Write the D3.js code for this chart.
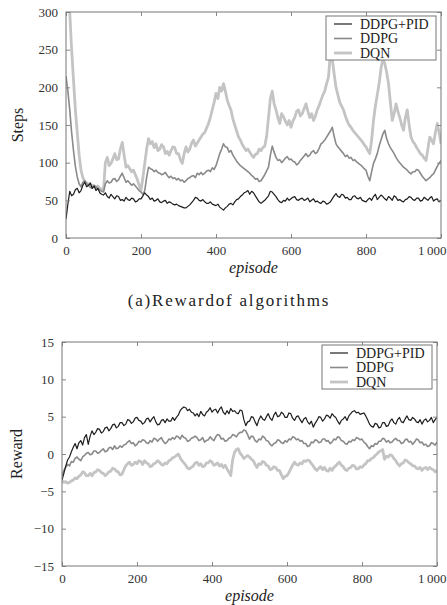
<!doctype html>
<html>
  <head>
    <meta charset="utf-8">
    <script src="https://d3js.org/d3.v7.min.js"></script>
    <style>
      body { margin: 0; background: #fff; }
    </style>
  </head>
  <body>
    <script>
    // episodes, one sample every 5 episodes
    var episodes = d3.range(0, 1001, 5);
    var seriesNames = ["DDPG+PID", "DDPG", "DQN"];
    var xTicks = [0, 200, 400, 600, 800, 1000];

    // (a) steps per episode
    var stepsPid = [25, 45, 62, 56, 58, 64, 66, 60, 63, 70, 74, 68, 70, 73, 66, 69, 63, 66, 60, 58,
      57, 60, 55, 53, 58, 55, 52, 56, 55, 50, 51, 49, 54, 51, 50, 53, 52, 48, 49, 52,
      52, 56, 60, 57, 55, 51, 53, 49, 50, 52, 48, 47, 49, 50, 46, 48, 47, 45, 44, 45,
      43, 42, 41, 40, 40, 42, 44, 47, 50, 54, 53, 50, 49, 51, 48, 46, 46, 48, 45, 44,
      43, 45, 41, 39, 37, 40, 42, 45, 46, 44, 48, 51, 52, 55, 57, 60, 61, 63, 58, 62,
      60, 56, 52, 48, 46, 48, 50, 53, 56, 62, 61, 58, 55, 51, 48, 47, 50, 49, 53, 50,
      52, 54, 55, 51, 50, 52, 53, 50, 51, 53, 48, 50, 52, 48, 49, 47, 46, 49, 48, 45,
      46, 48, 52, 56, 59, 55, 54, 58, 57, 53, 54, 51, 51, 55, 56, 53, 52, 54, 50, 49,
      48, 51, 53, 50, 55, 58, 51, 54, 57, 55, 52, 50, 55, 53, 50, 56, 54, 50, 51, 49,
      48, 51, 52, 55, 54, 51, 50, 53, 53, 49, 50, 54, 52, 50, 53, 55, 49, 51, 52, 48,
      50];
    var stepsDdpg = [215, 195, 170, 140, 116, 95, 81, 72, 68, 74, 76, 72, 70, 67, 66, 70, 68, 65, 64, 62,
      61, 72, 76, 73, 74, 78, 79, 75, 77, 82, 86, 80, 74, 76, 73, 70, 72, 69, 66, 63,
      61, 58, 63, 80, 94, 92, 91, 88, 90, 87, 86, 84, 85, 87, 83, 80, 82, 79, 80, 77,
      79, 76, 77, 74, 76, 79, 80, 82, 83, 80, 86, 84, 87, 84, 86, 89, 90, 88, 93, 91,
      96, 104, 112, 118, 125, 121, 120, 114, 116, 110, 106, 102, 99, 96, 94, 92, 90, 88, 86, 83,
      81, 78, 79, 75, 76, 80, 84, 89, 94, 110, 122, 114, 107, 103, 104, 100, 103, 106, 108, 104,
      105, 102, 101, 97, 99, 103, 106, 109, 112, 108, 110, 114, 116, 112, 114, 119, 125, 127, 130, 134,
      138, 142, 147, 135, 125, 121, 118, 115, 112, 108, 110, 106, 107, 103, 104, 101, 99, 97, 95, 92,
      90, 82, 76, 88, 99, 105, 112, 122, 130, 138, 143, 132, 125, 120, 116, 112, 107, 103, 100, 97,
      94, 92, 90, 87, 85, 88, 88, 91, 90, 86, 82, 79, 76, 78, 80, 83, 85, 90, 95, 99,
      103];
    var stepsDqn = [340, 320, 300, 250, 210, 170, 140, 110, 90, 80, 75, 73, 72, 70, 70, 68, 67, 69, 66, 65,
      64, 100, 107, 96, 99, 105, 112, 104, 105, 118, 127, 110, 94, 96, 92, 88, 90, 84, 78, 70,
      63, 80, 99, 118, 132, 125, 128, 120, 125, 116, 118, 124, 121, 112, 115, 110, 116, 121, 120, 112,
      112, 104, 99, 112, 121, 114, 118, 126, 130, 122, 126, 130, 134, 138, 140, 146, 152, 160, 170, 180,
      192, 185, 200, 195, 205, 195, 183, 176, 170, 158, 150, 142, 134, 130, 124, 120, 116, 118, 114, 110,
      107, 111, 112, 118, 116, 120, 122, 135, 160, 185, 195, 178, 170, 160, 152, 165, 161, 155, 150, 156,
      147, 155, 160, 168, 170, 162, 165, 172, 178, 168, 160, 165, 156, 162, 170, 176, 183, 190, 195, 205,
      214, 245, 238, 218, 200, 190, 180, 175, 170, 162, 155, 150, 147, 143, 140, 137, 134, 131, 128, 124,
      121, 116, 112, 130, 156, 175, 190, 205, 225, 238, 232, 220, 205, 180, 156, 165, 178, 168, 160, 150,
      143, 160, 170, 150, 134, 128, 125, 120, 116, 112, 110, 106, 103, 118, 134, 130, 125, 140, 152, 140,
      125];

    // (b) reward per episode
    var rewardPid = [-3.5, -2.6, -1.6, -0.8, -0.4, 0.3, 0.9, 1.4, 0.7, 1.5, 1.8, 1.2, 2.2, 2.6, 1.3, 2.4, 3.1, 2.6, 2.9, 3.4,
      3.3, 2.8, 3.0, 3.5, 3.6, 3.1, 3.4, 3.9, 4.0, 3.5, 3.7, 4.2, 4.2, 3.8, 4.0, 4.6, 4.5, 4.1, 4.3, 4.8,
      4.9, 4.5, 4.4, 4.0, 4.2, 4.7, 4.8, 4.3, 4.7, 5.0, 4.3, 3.9, 4.0, 4.5, 4.6, 4.2, 4.7, 4.4, 4.4, 4.9,
      4.5, 4.9, 5.2, 5.8, 6.1, 6.3, 6.2, 5.8, 6.0, 5.6, 5.5, 5.1, 5.4, 5.0, 5.7, 5.3, 5.1, 5.6, 5.8, 6.2,
      5.6, 5.9, 6.0, 5.5, 6.0, 6.3, 5.6, 5.3, 5.8, 5.4, 6.1, 5.7, 5.8, 5.5, 5.4, 5.9, 5.8, 4.6, 3.8, 4.3,
      4.4, 5.0, 4.9, 4.3, 3.8, 4.6, 5.1, 4.7, 4.5, 5.0, 5.4, 4.8, 4.5, 5.2, 5.6, 5.0, 5.1, 5.6, 5.4, 4.9,
      4.9, 5.5, 5.4, 4.8, 4.5, 5.0, 5.1, 4.6, 4.2, 4.7, 4.9, 4.3, 4.0, 4.4, 3.6, 4.1, 4.5, 5.0, 4.9, 4.4,
      4.7, 5.2, 5.1, 4.8, 5.4, 5.1, 4.9, 4.4, 4.0, 4.5, 4.7, 5.0, 4.5, 5.1, 5.4, 5.7, 5.8, 5.5, 5.6, 5.3,
      5.4, 5.5, 5.1, 4.6, 4.0, 3.7, 3.6, 4.1, 4.0, 3.5, 3.6, 4.2, 4.2, 3.7, 3.8, 4.4, 4.7, 4.2, 4.0, 4.6,
      4.9, 4.3, 4.2, 4.7, 5.1, 4.6, 4.5, 4.9, 4.7, 4.3, 4.2, 4.6, 4.0, 4.5, 4.7, 4.3, 4.5, 4.9, 4.2, 4.6,
      4.9];
    var rewardDdpg = [-2.9, -2.2, -1.8, -1.4, -1.6, -1.0, -1.1, -0.6, -0.4, -0.7, -0.9, -0.4, -0.2, 0.1, 0.2, -0.1, 0.0, 0.4, 0.4, 0.1,
      0.2, 0.5, 0.7, 0.3, 0.4, 0.8, 0.9, 0.6, 1.1, 0.7, 0.8, 1.1, 0.9, 1.2, 1.3, 1.6, 1.8, 1.4, 1.5, 1.1,
      1.3, 1.7, 1.6, 1.9, 1.8, 1.5, 1.4, 1.8, 1.6, 2.1, 2.0, 1.7, 2.0, 2.2, 1.7, 1.4, 1.6, 2.0, 1.9, 2.2,
      2.0, 2.4, 2.3, 2.0, 2.5, 2.2, 2.1, 1.7, 1.8, 2.1, 2.2, 2.4, 2.2, 1.8, 1.9, 2.2, 1.6, 1.8, 1.9, 2.3,
      2.0, 1.8, 2.3, 2.6, 2.5, 2.0, 2.1, 1.7, 1.8, 2.1, 2.2, 2.6, 2.5, 2.3, 2.7, 2.9, 2.9, 3.2, 3.1, 2.6,
      2.0, 2.4, 2.3, 1.8, 1.6, 2.0, 1.9, 2.4, 2.2, 1.8, 1.7, 1.3, 1.1, 1.4, 1.5, 1.9, 1.8, 1.5, 1.4, 1.8,
      1.6, 2.0, 1.9, 2.3, 2.2, 1.9, 2.0, 1.7, 1.8, 1.4, 1.4, 1.0, 1.1, 1.6, 1.5, 1.9, 1.8, 1.5, 1.6, 2.0,
      2.0, 1.7, 1.8, 1.4, 1.6, 2.0, 1.9, 2.3, 2.2, 1.8, 1.7, 1.4, 1.3, 1.7, 1.6, 1.9, 1.8, 2.2, 2.1, 1.9,
      2.0, 1.6, 1.4, 1.0, 0.7, 1.1, 1.0, 1.4, 1.3, 1.7, 1.7, 2.1, 2.0, 1.6, 1.8, 1.5, 1.6, 1.9, 2.1, 1.8,
      1.8, 1.4, 1.5, 1.9, 2.0, 1.6, 1.7, 1.3, 1.6, 2.0, 1.9, 1.5, 1.6, 1.2, 1.3, 1.0, 1.1, 1.5, 1.4, 1.2,
      1.6];
    var rewardDqn = [-3.6, -3.8, -3.7, -3.9, -3.8, -3.6, -3.5, -3.2, -3.3, -3.0, -2.8, -2.4, -2.5, -2.9, -2.9, -2.6, -2.9, -2.5, -2.4, -2.1,
      -2.2, -2.5, -2.6, -2.9, -2.7, -2.4, -2.3, -1.9, -2.0, -2.3, -2.4, -2.8, -2.7, -2.1, -1.6, -1.3, -1.1, -1.5, -1.4, -1.1,
      -1.3, -0.9, -1.0, -1.4, -0.9, -1.2, -1.3, -1.7, -1.6, -1.3, -1.2, -0.9, -1.1, -1.4, -1.5, -1.2, -1.3, -0.9, -0.8, -0.5,
      -0.4, -0.2, 0.0, -0.5, -0.9, -1.2, -1.5, -1.9, -2.0, -1.8, -1.6, -1.2, -1.1, -1.5, -1.3, -1.7, -1.6, -1.2, -1.2, -0.9,
      -1.1, -1.5, -1.4, -1.2, -1.6, -1.4, -1.8, -1.5, -2.0, -2.4, -2.9, -0.8, 0.2, 0.6, 0.7, 0.1, -0.2, -0.6, -0.4, -0.2,
      -0.4, -0.7, -0.9, -1.4, -1.8, -1.3, -1.4, -1.0, -1.1, -1.5, -1.6, -2.1, -2.0, -1.7, -1.8, -2.2, -2.2, -2.8, -3.3, -3.0,
      -2.9, -2.5, -2.0, -1.5, -1.1, -1.4, -1.5, -1.2, -1.3, -0.9, -1.0, -0.8, -0.9, -1.3, -1.6, -2.0, -2.2, -1.9, -1.7, -2.1,
      -1.8, -2.2, -2.3, -1.9, -2.2, -1.8, -1.6, -1.3, -1.1, -1.5, -1.7, -2.1, -2.2, -1.9, -1.8, -1.5, -1.6, -2.0, -2.0, -1.7,
      -1.8, -1.5, -1.3, -0.9, -0.9, -0.6, -0.5, -0.2, 0.0, 0.3, 0.4, 0.6, -0.7, -0.3, -0.4, -0.1, -0.2, -0.6, -0.9, -1.3,
      -1.6, -1.3, -1.2, -0.8, -0.9, -1.2, -1.3, -1.6, -1.6, -1.9, -2.0, -1.8, -2.2, -1.9, -1.8, -2.1, -1.8, -2.0, -2.1, -2.4,
      -2.2];

    var stepsTicks = [0, 50, 100, 150, 200, 250, 300];
    var rewardTicks = [-15, -10, -5, 0, 5, 10, 15];

    var colors = ["#1e1e1e", "#8a8a8a", "#c4c4c4"];
    var widths = [1.2, 1.6, 2.8];

    var width = 447;
    var height = 605;

    var svg = d3.select("body")
              .append("svg")
              .attr("width", width)
              .attr("height", height);

    function drawChart(opt) {
      var g = svg.append("g")
                 .attr("transform", "translate(" + opt.left + "," + opt.top + ")");
      var w = opt.width, h = opt.height;

      var x = d3.scaleLinear().domain([0, 1000]).range([0, w]);
      var y = d3.scaleLinear().domain(opt.yDomain).range([h, 0]);

      g.append("clipPath")
        .attr("id", opt.id)
        .append("rect")
        .attr("width", w)
        .attr("height", h);

      var line = d3.line()
                   .x(function(d, i) { return x(episodes[i]); })
                   .y(function(d) { return y(d); });

      // light series first so the dark one sits on top
      [2, 1, 0].forEach(function(k) {
        g.append("path")
          .attr("clip-path", "url(#" + opt.id + ")")
          .attr("d", line(opt.series[k]))
          .attr("fill", "none")
          .attr("stroke", colors[k])
          .attr("stroke-width", widths[k])
          .attr("stroke-linejoin", "round");
      });

      // axes, ticks pointing inward on all four sides
      var fmtX = function(d) { return d === 1000 ? "1\u2009000" : d; };
      var axB = g.append("g").attr("transform", "translate(0," + h + ")")
                 .call(d3.axisBottom(x).tickValues(xTicks).tickSizeInner(-4).tickSizeOuter(0).tickPadding(8).tickFormat(fmtX));
      var axT = g.append("g")
                 .call(d3.axisTop(x).tickValues(xTicks).tickSizeInner(-4).tickSizeOuter(0).tickFormat(""));
      var axL = g.append("g")
                 .call(d3.axisLeft(y).tickValues(opt.yTicks).tickSizeInner(-4).tickSizeOuter(0).tickPadding(8));
      var axR = g.append("g").attr("transform", "translate(" + w + ",0)")
                 .call(d3.axisRight(y).tickValues(opt.yTicks).tickSizeInner(-4).tickSizeOuter(0).tickFormat(""));

      [axB, axT, axL, axR].forEach(function(a) {
        a.select(".domain").remove();
        a.selectAll("line").attr("stroke", "#888");
        a.selectAll("text")
          .attr("fill", "#333")
          .attr("font-family", "Liberation Serif, serif")
          .attr("font-size", "13px");
      });

      // last x label sits against the right edge of the page
      axB.selectAll(".tick text")
        .filter(function(d) { return d === 1000; })
        .attr("text-anchor", "end")
        .attr("x", 446 - opt.left - w);

      g.append("rect")
        .attr("width", w)
        .attr("height", h)
        .attr("fill", "none")
        .attr("stroke", "#777")
        .attr("stroke-width", 1);

      g.append("text")
        .attr("x", w / 2)
        .attr("y", h + 35)
        .attr("text-anchor", "middle")
        .attr("font-family", "Liberation Serif, serif")
        .attr("font-style", "italic")
        .attr("font-size", "16px")
        .attr("fill", "#222")
        .text("episode");

      g.append("text")
        .attr("transform", "translate(" + opt.yLabelX + "," + (h / 2) + ") rotate(-90)")
        .attr("text-anchor", "middle")
        .attr("dy", "0.35em")
        .attr("font-family", "Liberation Serif, serif")
        .attr("font-size", "16px")
        .attr("fill", "#222")
        .text(opt.yLabel);

      // legend box
      var lg = g.append("g").attr("transform", "translate(" + opt.legendX + "," + opt.legendY + ")");
      lg.append("rect")
        .attr("width", 110)
        .attr("height", 44)
        .attr("fill", "#fff")
        .attr("stroke", "#777");
      seriesNames.forEach(function(name, k) {
        lg.append("line")
          .attr("x1", 8).attr("x2", 26)
          .attr("y1", 8 + k * 14.5).attr("y2", 8 + k * 14.5)
          .attr("stroke", colors[k])
          .attr("stroke-width", widths[k]);
        lg.append("text")
          .attr("x", 34)
          .attr("y", 8 + k * 14.5)
          .attr("dy", "0.35em")
          .attr("font-family", "Liberation Serif, serif")
          .attr("font-size", "14px")
          .attr("fill", "#222")
          .text(name);
      });
    }

    drawChart({
      id: "clipA", left: 66, top: 12, width: 375, height: 226,
      yDomain: [0, 300], yTicks: stepsTicks, yLabel: "Steps", yLabelX: -49,
      series: [stepsPid, stepsDdpg, stepsDqn],
      legendX: 260, legendY: 4
    });

    svg.append("text")
      .attr("x", 229)
      .attr("y", 306)
      .attr("text-anchor", "middle")
      .attr("font-family", "Liberation Serif, serif")
      .attr("font-size", "17px")
      .attr("letter-spacing", "1.8px")
      .attr("fill", "#222")
      .text("(a)Rewardof algorithms");

    drawChart({
      id: "clipB", left: 62, top: 342, width: 375, height: 224,
      yDomain: [-15, 15], yTicks: rewardTicks, yLabel: "Reward", yLabelX: -46,
      series: [rewardPid, rewardDdpg, rewardDqn],
      legendX: 260, legendY: 3
    });
    </script>
  </body>
</html>
